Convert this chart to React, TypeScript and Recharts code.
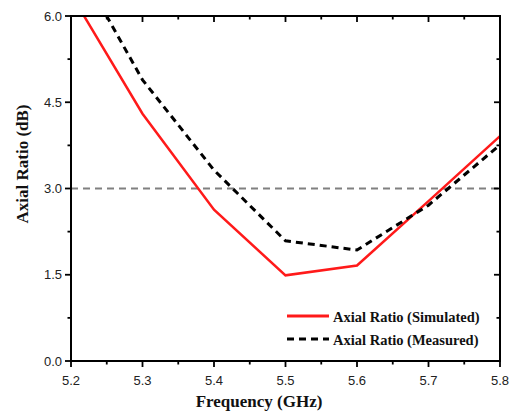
import React from "react";
import { LineChart, Line, XAxis, YAxis, ReferenceLine } from "recharts";

const frequency = [5.2, 5.3, 5.4, 5.5, 5.6, 5.7, 5.8];
const simulated = [6.38, 4.3, 2.63, 1.49, 1.66, 2.78, 3.91];
const measured = [7.1, 4.89, 3.32, 2.09, 1.93, 2.71, 3.76];
const xTicks = [5.2, 5.25, 5.3, 5.35, 5.4, 5.45, 5.5, 5.55, 5.6, 5.65, 5.7, 5.75, 5.8];
const yTicks = [0, 0.75, 1.5, 2.25, 3, 3.75, 4.5, 5.25, 6];
const threshold = 3;
const seriesNames = ["Axial Ratio (Simulated)", "Axial Ratio (Measured)"];

const data = frequency.map((f, i) => ({ f, sim: simulated[i], meas: measured[i] }));

const CHART_W = 510;
const CHART_H = 417;
const M = { top: 16, right: 10, bottom: 0, left: 0 };
const X_AXIS_H = 56;
const Y_AXIS_W = 71;
const PLOT_LEFT = M.left + Y_AXIS_W;
const PLOT_TOP = M.top;
const PLOT_RIGHT = CHART_W - M.right;
const PLOT_H = CHART_H - M.top - X_AXIS_H;
const PLOT_W = PLOT_RIGHT - PLOT_LEFT;

const isMajorX = (v: number) => Math.abs(Math.round(v * 10) - v * 10) < 1e-6;
const isMajorY = (v: number) => Math.abs(Math.round(v / 1.5) - v / 1.5) < 1e-6;

const tickFont = { fontFamily: "'Liberation Sans', Arial, sans-serif", fontSize: 13, fill: "#222" };

const BottomTick = (p: any) => {
  const { x, y, payload } = p;
  const major = isMajorX(payload.value);
  const len = major ? 6 : 3.5;
  const topY = y - PLOT_H;
  return (
    <g>
      <rect x={x - 0.9} y={y} width={1.8} height={len} fill="#000" />
      <rect x={x - 0.9} y={topY} width={1.8} height={len} fill="#000" />
      {major && (
        <text x={x} y={y + 23.5} textAnchor="middle" {...tickFont}>
          {payload.value.toFixed(1)}
        </text>
      )}
    </g>
  );
};

const LeftTick = (p: any) => {
  const { x, y, payload } = p;
  const major = isMajorY(payload.value);
  const len = major ? 6 : 3.5;
  return (
    <g>
      <rect x={x - len} y={y - 0.9} width={len} height={1.8} fill="#000" />
      <rect x={PLOT_RIGHT - len} y={y - 0.9} width={len} height={1.8} fill="#000" />
      {major && (
        <text x={x - 9} y={y + 4.7} textAnchor="end" {...tickFont}>
          {payload.value.toFixed(1)}
        </text>
      )}
    </g>
  );
};

const serifBold = { fontFamily: "'Liberation Serif', 'Times New Roman', serif", fontWeight: 700 };

export default function App() {
  return (
    <div style={{ position: "absolute", left: 0, top: 0, width: CHART_W, height: CHART_H, background: "#fff" }}>
      <LineChart width={CHART_W} height={CHART_H} data={data} margin={M}>
        <XAxis
          dataKey="f"
          type="number"
          domain={[5.2, 5.8]}
          ticks={xTicks}
          interval={0}
          allowDataOverflow
          height={X_AXIS_H}
          axisLine={{ stroke: "#000", strokeWidth: 2 }}
          tickLine={false}
          tickSize={0}
          tickMargin={0}
          tick={BottomTick}
        />
        <YAxis
          type="number"
          domain={[0, 6]}
          ticks={yTicks}
          interval={0}
          allowDataOverflow
          width={Y_AXIS_W}
          axisLine={{ stroke: "#000", strokeWidth: 2 }}
          tickLine={false}
          tickSize={0}
          tickMargin={0}
          tick={LeftTick}
        />
        <ReferenceLine y={threshold} stroke="#808080" strokeWidth={2} strokeDasharray="7 5" />
        <Line
          type="linear"
          dataKey="sim"
          name={seriesNames[0]}
          stroke="#ff1a1a"
          strokeWidth={2.5}
          dot={false}
          activeDot={false}
          isAnimationActive={false}
        />
        <Line
          type="linear"
          dataKey="meas"
          name={seriesNames[1]}
          stroke="#000"
          strokeWidth={3}
          strokeDasharray="7 5"
          dot={false}
          activeDot={false}
          isAnimationActive={false}
        />
      </LineChart>
      <div
        style={{
          position: "absolute",
          left: PLOT_LEFT - 1,
          top: PLOT_TOP - 1,
          width: PLOT_W + 2,
          height: PLOT_H + 2,
          borderTop: "2px solid #000",
          borderRight: "2px solid #000",
          boxSizing: "border-box",
          pointerEvents: "none",
        }}
      />
      <svg
        width={220}
        height={48}
        style={{ position: "absolute", left: 285, top: 305, pointerEvents: "none" }}
      >
        {seriesNames.map((name, i) => {
          const cy = 11 + i * 23;
          return (
            <g key={name}>
              <line
                x1={2}
                x2={44}
                y1={cy}
                y2={cy}
                stroke={i === 0 ? "#ff1a1a" : "#000"}
                strokeWidth={3}
                strokeDasharray={i === 1 ? "7 5" : undefined}
              />
              <text x={48} y={cy + 5.5} fontSize={14.5} fill="#111" {...serifBold}>
                {name}
              </text>
            </g>
          );
        })}
      </svg>
      <div
        style={{
          position: "absolute",
          left: 259,
          top: 392,
          transform: "translateX(-50%)",
          whiteSpace: "nowrap",
          fontSize: 17,
          lineHeight: "20px",
          color: "#111",
          ...serifBold,
        }}
      >
        Frequency (GHz)
      </div>
      <div
        style={{
          position: "absolute",
          left: 23,
          top: 164,
          transform: "translate(-50%, -50%) rotate(-90deg)",
          whiteSpace: "nowrap",
          fontSize: 17,
          lineHeight: "20px",
          color: "#111",
          ...serifBold,
        }}
      >
        Axial Ratio (dB)
      </div>
    </div>
  );
}
